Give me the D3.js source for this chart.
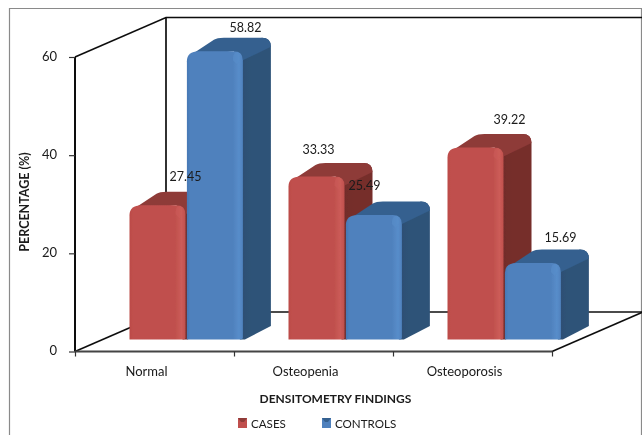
<!DOCTYPE html>
<html>
<head>
<meta charset="utf-8">
<script src="https://cdn.jsdelivr.net/npm/d3@7"></script>
<style>
html,body{margin:0;padding:0;background:#fff;}
svg{display:block;}
text{font-family:Lato,"Open Sans",sans-serif;fill:#1a1a1a;}
</style>
</head>
<body>
<svg id="chart" width="642" height="435"></svg>
<script>
const categories = ["Normal", "Osteopenia", "Osteoporosis"];
const seriesNames = ["CASES", "CONTROLS"];
const cases = [27.45, 33.33, 39.22];
const controls = [58.82, 25.49, 15.69];
const yTicks = [0, 20, 40, 60];

const svg = d3.select("#chart");
const W = 642, H = 435;

// Layout of the pseudo-3D box
const floor = {x0: 75, x1: 552, y: 351.5};
const wall = {dx: 91, dy: -39.5};
const top60 = 57;
const barDepth = {dx: 28, dy: -13.5};
const baseLift = 12;
const r = 9;

const x = d3.scaleBand().domain(categories).range([floor.x0, floor.x1]).paddingInner(0).paddingOuter(0);
const xSeries = d3.scaleBand().domain(seriesNames).range([54.5, 54.5 + 114]).paddingInner(0.0).paddingOuter(0);
const y = d3.scaleLinear().domain([0, 60]).range([floor.y, top60]);

const palette = {
  CASES: {l: "#bb4a47", m: "#c0504d", h: "#cc5c58", top: "#8e3a38", side: "#762e2c", sideD: "#6f2b29"},
  CONTROLS: {l: "#4678b5", m: "#4f81bd", h: "#588dca", top: "#34608f", side: "#2f5378", sideD: "#2b4d71"}
};

const defs = svg.append("defs");
defs.append("filter").attr("id", "soft").attr("x", "-5%").attr("y", "-5%").attr("width", "110%").attr("height", "110%")
  .append("feGaussianBlur").attr("stdDeviation", 0.45);
seriesNames.forEach(n => {
  const c = palette[n];
  const g = defs.append("linearGradient").attr("id", "front" + n);
  [[0, c.l], [0.06, c.m], [0.82, c.m], [0.93, c.h], [1, c.m]].forEach(s =>
    g.append("stop").attr("offset", s[0]).attr("stop-color", s[1]));
  const t = defs.append("linearGradient").attr("id", "side" + n);
  [[0, c.sideD], [0.5, c.side], [1, c.side]].forEach(s =>
    t.append("stop").attr("offset", s[0]).attr("stop-color", s[1]));
});

const root = svg.append("g");

// Outer frame
root.append("path").attr("d", `M9.5,${H}V8.5H641.5V${H}`).attr("fill", "none").attr("stroke", "#8a8a8a").attr("stroke-width", 1.2);

// Box lines: back wall, floor and side wall
const dark = "#111";
const box = root.append("g").attr("fill", "none").attr("stroke", dark).attr("stroke-width", 1.7);
const bx = floor.x0 + wall.dx, bTop = top60 + wall.dy, bBot = floor.y + wall.dy;
box.append("path").attr("d", `M${floor.x0},${top60}L${bx},${bTop}H${W}`);
box.append("path").attr("d", `M${bx},${bTop}V${bBot}H${W}`);
box.append("path").attr("d", `M${floor.x0},${floor.y}L${bx},${bBot}`);
box.append("path").attr("d", `M${floor.x1},${floor.y}L${floor.x1 + wall.dx},${bBot}`);

// Front axes
const yAxis = d3.axisLeft(y).tickValues(yTicks).tickSize(6).tickPadding(12);
const yG = root.append("g").attr("transform", `translate(${floor.x0},0)`).call(yAxis);
yG.select(".domain").attr("stroke", dark).attr("stroke-width", 2).attr("d", `M0,${top60}V${floor.y}`);
yG.selectAll(".tick line").attr("stroke", "#333").attr("stroke-width", 1.2);
yG.selectAll(".tick text").attr("font-size", 13).attr("font-family", "Lato,sans-serif").attr("fill", "#1a1a1a")
  .attr("dy", "0.32em").attr("y", -1);

const xAxisScale = d3.scalePoint().domain(d3.range(4)).range([floor.x0, floor.x1]);
const xG = root.append("g").attr("transform", `translate(0,${floor.y})`)
  .call(d3.axisBottom(xAxisScale).tickSize(5).tickFormat(""));
xG.select(".domain").attr("stroke", "#444").attr("stroke-width", 2).attr("d", `M${floor.x0},0H${floor.x1}`);
xG.selectAll(".tick line").attr("stroke", "#333").attr("stroke-width", 1.2);

// Bars
function barPaths(x0, w, top, base) {
  const x1 = x0 + w, d = barDepth, tb = top + d.dy;
  return {
    side: `M${x1 - r},${top}L${x1 - r + d.dx},${tb}Q${x1 + d.dx},${tb} ${x1 + d.dx},${tb + r}V${base + d.dy}L${x1 + 2},${base}H${x1 - 3}Z`,
    top: `M${x0 + 2},${top + 5}L${x0 + d.dx - 1},${tb + 2}Q${x0 + d.dx + 2},${tb} ${x0 + d.dx + r},${tb}H${x1 + d.dx - r}Q${x1 + d.dx},${tb} ${x1 + d.dx},${tb + r}L${x1},${top + r}Q${x1},${top} ${x1 - r},${top}Z`,
    front: `M${x0},${base}V${top + r + 1}Q${x0},${top} ${x0 + r + 3},${top}H${x1 - r}Q${x1},${top} ${x1},${top + r}V${base - 2}Q${x1},${base} ${x1 - 3},${base}Z`,
    hl: `M${x1 - 10},${top + r}Q${x1 - 10},${top + 1} ${x1 - 6},${top + 1}Q${x1 - 3},${top + 2} ${x1 - 3},${top + r - 1}L${x1 - 6},${top + r + 4}Z`
  };
}
const rows = categories.flatMap((c, i) => [
  {cat: c, name: "CASES", v: cases[i]},
  {cat: c, name: "CONTROLS", v: controls[i]}
]);
const yBar = v => y(v) - baseLift;
const barW = xSeries.bandwidth() - 1;
const bars = root.selectAll("g.bar").data(rows).join("g").attr("class", "bar");
bars.each(function (d) {
  const g = d3.select(this), c = palette[d.name];
  const x0 = x(d.cat) + xSeries(d.name) + (d.name === "CONTROLS" ? 0.4 : 0);
  const p = barPaths(x0, barW, yBar(d.v) + 0.5, yBar(0));
  g.append("path").attr("d", p.side).attr("fill", `url(#side${d.name})`);
  g.append("path").attr("d", p.top).attr("fill", c.top);
  g.append("path").attr("d", p.front).attr("fill", `url(#front${d.name})`);
  g.append("path").attr("d", p.hl).attr("fill", c.h).attr("opacity", 0.6);
});

// Data labels: manual placement in the source chart
const labelShift = {
  "CASES|Normal": [28, -27], "CONTROLS|Normal": [31, -22],
  "CASES|Osteopenia": [2, -25], "CONTROLS|Osteopenia": [-9, -28],
  "CASES|Osteoporosis": [34, -26], "CONTROLS|Osteoporosis": [28, -24]
};
root.selectAll("text.val").data(rows).join("text").attr("class", "val")
  .attr("text-anchor", "middle").attr("dominant-baseline", "middle").attr("font-size", 12.5)
  .attr("x", d => x(d.cat) + xSeries(d.name) + barW / 2 + labelShift[d.name + "|" + d.cat][0])
  .attr("y", d => yBar(d.v) + labelShift[d.name + "|" + d.cat][1])
  .text(d => d.v.toFixed(2));

// Category labels
root.selectAll("text.cat").data(categories).join("text").attr("class", "cat")
  .attr("text-anchor", "middle").attr("font-size", 13).attr("y", 376)
  .attr("x", d => x(d) + x.bandwidth() / 2 - 8)
  .text(d => d);

// Axis titles
root.append("text").attr("text-anchor", "middle").attr("font-size", 12).attr("font-weight", 700)
  .attr("x", 335.5).attr("y", 403).text("DENSITOMETRY FINDINGS");
root.append("text").attr("text-anchor", "middle").attr("font-size", 12.5).attr("font-weight", 700)
  .attr("transform", "translate(29,202) rotate(-90)").text("PERCENTAGE (%)");

// Legend
const legendX = d3.scaleOrdinal().domain(seriesNames).range([238, 322]);
const lg = root.selectAll("g.leg").data(seriesNames).join("g").attr("class", "leg")
  .attr("transform", d => `translate(${legendX(d)},418)`);
lg.append("rect").attr("width", 9).attr("height", 10).attr("fill", d => palette[d].m);
lg.append("path").attr("d", "M0,0H9L6,4H3Z").attr("fill", d => palette[d].top);
lg.append("text").attr("x", 13).attr("y", 9.5).attr("font-size", 11.6).text(d => d);

root.attr("filter", "url(#soft)");
</script>
</body>
</html>
